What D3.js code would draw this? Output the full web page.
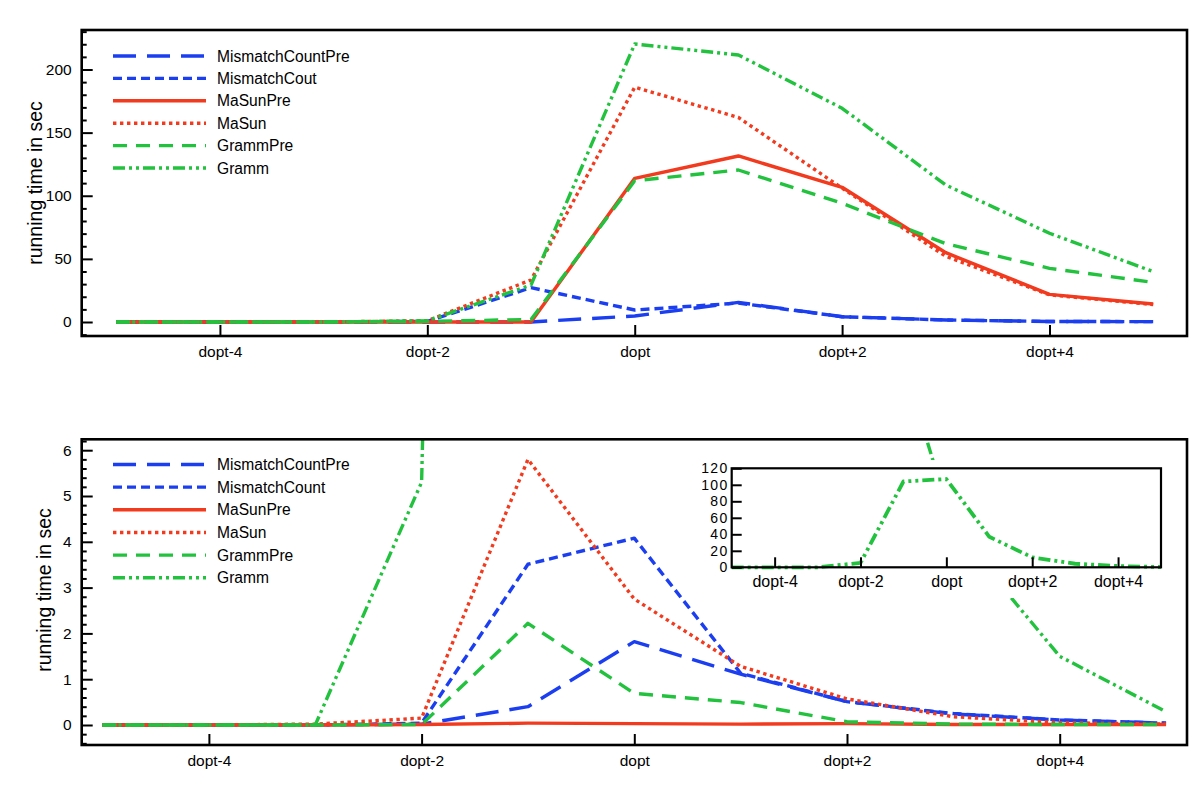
<!DOCTYPE html>
<html><head><meta charset="utf-8">
<script src="https://cdn.jsdelivr.net/npm/d3@7"></script>
<style>
body{margin:0;background:#fff}
svg{display:block}
text{font-family:"Liberation Sans",Arial,Helvetica,sans-serif;fill:#000}
</style>
</head><body>
<svg id="c" width="1200" height="805"></svg>
<script>
// ---------- data ----------
const offsets = [-5,-4,-3,-2,-1,0,1,2,3,4,5];
const xTickValues = [-4,-2,0,2,4];
const xTickLabels = ["dopt-4","dopt-2","dopt","dopt+2","dopt+4"];

const topSeriesNames = ["MismatchCountPre","MismatchCout","MaSunPre","MaSun","GrammPre","Gramm"];
const topMismatchCountPre = [0,0,0,0,0,4.8,15.5,4.2,1.6,0.4,0.3];
const topMismatchCout     = [0,0,0,0.5,27.2,9.5,15,4.2,1.6,0.4,0.3];
const topMaSunPre         = [0,0,0,0,0,113.8,131.5,106.7,54.9,21.9,14.3];
const topMaSun            = [0,0,0,1,33.3,186,162,106,52,21.5,13.8];
const topGrammPre         = [0,0,0,0.5,2,111.9,120.4,94,62,42.5,31.4];
const topGramm            = [0,0,0,1,29.3,220.2,211.5,169.3,108.5,70.3,39.9];
const topYTicks = [0,50,100,150,200];

const bottomSeriesNames = ["MismatchCountPre","MismatchCount","MaSunPre","MaSun","GrammPre","Gramm"];
const botMismatchCountPre = [0,0,0,0.02,0.4,1.82,1.11,0.51,0.24,0.11,0.04];
const botMismatchCount    = [0,0,0,0.04,3.51,4.08,1.13,0.51,0.25,0.11,0.04];
const botMaSunPre         = [0,0,0,0.01,0.04,0.03,0.02,0.03,0.01,0.01,0.01];
const botMaSun            = [0,0,0.02,0.15,5.8,2.75,1.28,0.57,0.18,0.05,0.02];
const botGrammPre         = [0,0,0,0.01,2.22,0.69,0.49,0.07,0.02,0.01,0.01];
const botGramm            = [0,0,0,5.3,104,107,37,12,4.3,1.5,0.29];
const bottomYTicks = [0,1,2,3,4,5,6];
const insetYTicks = [0,20,40,60,80,100,120];

const yTitle = "running time in sec";

// ---------- styles ----------
const BLUE = "#1b3ff0", RED = "#f23a1e", GREEN = "#22c23e";
const styles = [
  {color:BLUE, dash:"23,11", w:3.4},
  {color:BLUE, dash:"9,5", w:3.4},
  {color:RED, dash:null, w:3.4},
  {color:RED, dash:"3.4,3.6", w:3.4},
  {color:GREEN, dash:"14,9", w:3.4},
  {color:GREEN, dash:"12,4,3,4,3,4", w:3.4}
];

const svg = d3.select("#c");
const defs = svg.append("defs");

function panel(cfg){
  const {id, left, right, top, bottom, xDomain, yDomain, series, names, yTicks, minorStep, titleX, titleY, legendY} = cfg;
  const x = d3.scaleLinear().domain(xDomain).range([left,right]);
  const y = d3.scaleLinear().domain(yDomain).range([bottom,top]);
  defs.append("clipPath").attr("id","clip"+id).append("rect")
    .attr("x",left).attr("y",top).attr("width",right-left).attr("height",bottom-top);
  const g = svg.append("g");
  const line = d3.line().x((d,i)=>x(offsets[i])).y(d=>y(d)).curve(d3.curveLinear);
  const lg = g.append("g").attr("clip-path","url(#clip"+id+")");
  series.forEach((s,i)=>{
    lg.append("path").datum(s).attr("d",line).attr("fill","none")
      .attr("stroke",styles[i].color).attr("stroke-width",styles[i].w)
      .attr("stroke-dasharray",styles[i].dash).attr("stroke-linejoin","round");
  });
  // legend
  names.forEach((n,i)=>{
    const yy = legendY[0] + i*legendY[1];
    g.append("line").attr("x1",113).attr("x2",206).attr("y1",yy).attr("y2",yy)
      .attr("stroke",styles[i].color).attr("stroke-width",styles[i].w)
      .attr("stroke-dasharray",styles[i].dash);
    g.append("text").attr("x",217).attr("y",yy).attr("dy","0.36em")
      .attr("font-size","15.6px").text(n);
  });
  // axes
  const xa = d3.axisBottom(x).tickValues(xTickValues).tickFormat((d,i)=>xTickLabels[i])
    .tickSizeInner(-11).tickSizeOuter(0).tickPadding(10);
  const gx = g.append("g").attr("transform",`translate(0,${bottom})`).call(xa);
  const ya = d3.axisLeft(y).tickValues(yTicks).tickFormat(d3.format("d"))
    .tickSizeInner(-11).tickSizeOuter(0).tickPadding(10);
  const gy = g.append("g").attr("transform",`translate(${left},0)`).call(ya);
  const minors = d3.range(Math.ceil(yDomain[0]/minorStep), Math.floor(yDomain[1]/minorStep)+1)
     .map(k=>+(k*minorStep).toFixed(4)).filter(v=>!yTicks.some(t=>Math.abs(t-v)<1e-6));
  const ym = d3.axisLeft(y).tickValues(minors).tickFormat("").tickSizeInner(-5).tickSizeOuter(0);
  const gym = g.append("g").attr("transform",`translate(${left},0)`).call(ym);
  [gx,gy,gym].forEach(a=>{
    a.select(".domain").remove();
    a.selectAll("line").attr("stroke","#000").attr("stroke-width",2);
    a.selectAll("text").attr("font-size","15.5px").attr("font-family",null);
  });
  // frame
  g.append("rect").attr("x",left).attr("y",top).attr("width",right-left).attr("height",bottom-top)
    .attr("fill","none").attr("stroke","#000").attr("stroke-width",2.6);
  g.append("text").attr("transform",`translate(${titleX},${titleY}) rotate(-90)`)
    .attr("text-anchor","middle").attr("dy","0.35em").attr("font-size","19.5px").text(yTitle);
  return {x,y,g};
}

panel({id:"top", left:81.7, right:1187, top:30, bottom:336,
  xDomain:[-5.333,5.326], yDomain:[(322-336)/1.2625, (322-30)/1.2625],
  series:[topMismatchCountPre,topMismatchCout,topMaSunPre,topMaSun,topGrammPre,topGramm],
  names:topSeriesNames, yTicks:topYTicks, minorStep:10, titleX:35, titleY:183, legendY:[56,22.4]});

panel({id:"bot", left:81.7, right:1187, top:439.3, bottom:745,
  xDomain:[-5.196,5.197], yDomain:[(725-745)/45.8, (725-439.3)/45.8],
  series:[botMismatchCountPre,botMismatchCount,botMaSunPre,botMaSun,botGrammPre,botGramm],
  names:bottomSeriesNames, yTicks:bottomYTicks, minorStep:0.2, titleX:44, titleY:590, legendY:[464.5,22.65]});

// ---------- inset ----------
(function(){
  const L=731.7, R=1161, T=468.3, B=567.3;
  const g = svg.append("g");
  g.append("rect").attr("x",693).attr("y",460).attr("width",477).attr("height",138).attr("fill","#fff");
  const x = d3.scaleLinear().domain([-5,5]).range([L,R]);
  const y = d3.scaleLinear().domain([0,120]).range([B,T]);
  const line = d3.line().x((d,i)=>x(offsets[i])).y(d=>y(d));
  g.append("path").datum(botGramm).attr("d",line).attr("fill","none")
    .attr("stroke",styles[5].color).attr("stroke-width",styles[5].w+0.4)
    .attr("stroke-dasharray",styles[5].dash).attr("stroke-linejoin","round");
  const xa = d3.axisBottom(x).tickValues(xTickValues).tickFormat((d,i)=>xTickLabels[i])
    .tickSizeInner(-10).tickSizeOuter(0).tickPadding(8);
  const gx = g.append("g").attr("transform",`translate(0,${B})`).call(xa);
  const ya = d3.axisLeft(y).tickValues(insetYTicks).tickFormat(d3.format("d"))
    .tickSizeInner(-10).tickSizeOuter(0).tickPadding(3);
  const gy = g.append("g").attr("transform",`translate(${L},0)`).call(ya);
  [gx,gy].forEach(a=>{
    a.select(".domain").remove();
    a.selectAll("line").attr("stroke","#000").attr("stroke-width",2);
  });
  gx.selectAll("text").attr("font-size","16px").attr("font-family",null);
  gy.selectAll("text").attr("font-size","14px").attr("letter-spacing","1.4px").attr("font-family",null);
  g.append("rect").attr("x",L).attr("y",T).attr("width",R-L).attr("height",B-T)
    .attr("fill","none").attr("stroke","#000").attr("stroke-width",2.2);
})();
</script>
</body></html>
